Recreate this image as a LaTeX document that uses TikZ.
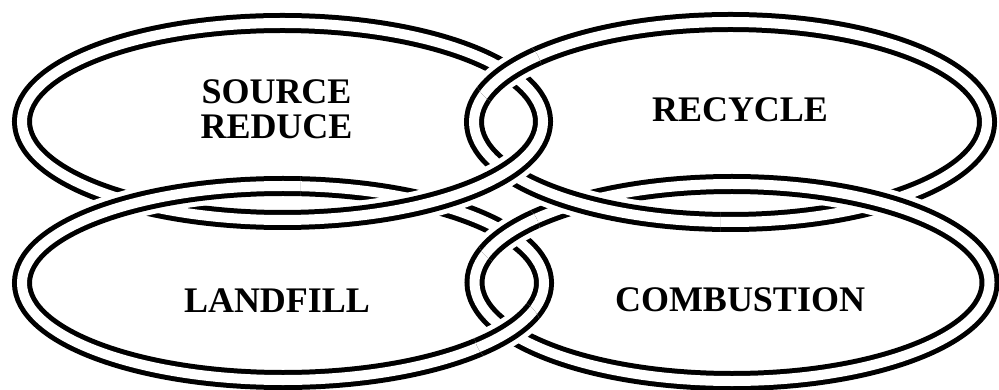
\documentclass[tikz,border=0pt]{standalone}
\usepackage{fontspec}
\setmainfont{Liberation Serif}
\begin{document}
\tikzset{
  band/.style={draw=black, line width=0.5mm, double=white, double distance=1mm},
  halo/.style={draw=white, line width=3mm},
  lbl/.style={font=\fontsize{10.24}{12}\selectfont\bfseries, inner sep=0pt, anchor=center},
  ellTL/.style={x radius=260.5, y radius=98.5},
  ellTR/.style={x radius=256.5, y radius=100},
  ellBL/.style={x radius=261, y radius=97},
  ellBR/.style={x radius=257.5, y radius=98.5}
}
\begin{tikzpicture}[x=0.1mm,y=-0.1mm]
\useasboundingbox[fill=white] (0,0) rectangle (999,390);
\coordinate (cTL) at (282.5,121.5);
\coordinate (cTR) at (730.5,122);
\coordinate (cBL) at (283,283);
\coordinate (cBR) at (732,282.5);

% full rings
\draw[band] (cTL) ellipse [ellTL];
\draw[band] (cTR) ellipse [ellTR];
\draw[band] (cBL) ellipse [ellBL];
\draw[band] (cBR) ellipse [ellBR];

% crossing 1: recycle ring over source ring (top)
\begin{scope}
  \clip (508,72) circle (34);
  \draw[halo] (cTR) ellipse [ellTR];
  \draw[band] (cTR) ellipse [ellTR];
\end{scope}
% crossings 2 and 6: source ring over recycle ring and landfill ring
\begin{scope}
  \clip (300,140) rectangle (560,262);
  \draw[halo] (cTL) ellipse [ellTL];
  \draw[band] (cTL) ellipse [ellTL];
\end{scope}
% crossing 3: combustion ring over landfill ring (top)
\begin{scope}
  \clip (508,233) circle (32);
  \draw[halo] (cBR) ellipse [ellBR];
  \draw[band] (cBR) ellipse [ellBR];
\end{scope}
% crossing 4: landfill ring over combustion ring (bottom)
\begin{scope}
  \clip (508,332) circle (34);
  \draw[halo] (cBL) ellipse [ellBL];
  \draw[band] (cBL) ellipse [ellBL];
\end{scope}
% crossing 5: landfill ring over source ring (left)
\begin{scope}
  \clip (0,140) rectangle (300,270);
  \draw[halo] (cBL) ellipse [ellBL];
  \draw[band] (cBL) ellipse [ellBL];
\end{scope}
% crossing 7: recycle ring over combustion ring (left)
\begin{scope}
  \clip (538,140) rectangle (720,262);
  \draw[halo] (cTR) ellipse [ellTR];
  \draw[band] (cTR) ellipse [ellTR];
\end{scope}
% crossing 8: combustion ring over recycle ring (right)
\begin{scope}
  \clip (760,140) rectangle (999,262);
  \draw[halo] (cBR) ellipse [ellBR];
  \draw[band] (cBR) ellipse [ellBR];
\end{scope}

% labels
\node[lbl] (tSource) at (276.5,92) {SOURCE};
\node[lbl] (tReduce) at (276.5,127) {REDUCE};
\node[lbl] (tRecycle) at (740,110) {RECYCLE};
\node[lbl] (tLandfill) at (277,301) {LANDFILL};
\node[lbl] (tCombustion) at (740,300) {COMBUSTION};
\end{tikzpicture}
\end{document}
